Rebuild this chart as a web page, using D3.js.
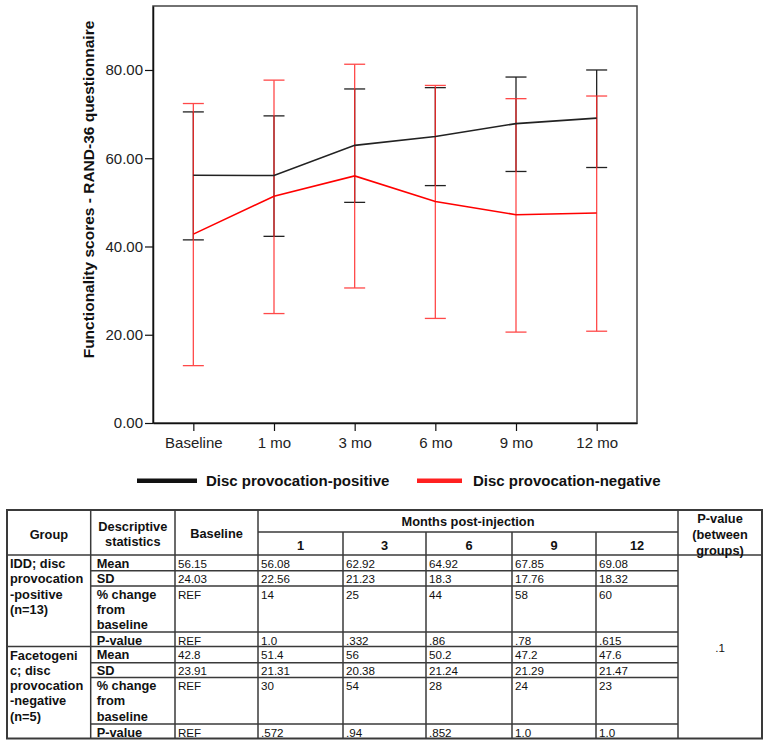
<!DOCTYPE html>
<html>
<head>
<meta charset="utf-8">
<script src="https://cdn.jsdelivr.net/npm/d3@7"></script>
<style>
  body { margin: 0; background: #fff; }
  svg { display: block; font-family: Arial, "Liberation Sans", sans-serif; }
</style>
</head>
<body>
<div id="chart"></div>
<script>
// Chart data (means from the table, error bar ends)
const timepoints = ['Baseline', '1 mo', '3 mo', '6 mo', '9 mo', '12 mo'];
const posMean = [56.15, 56.08, 62.92, 64.92, 67.85, 69.08];
const posLow  = [41.5, 42.3, 50.0, 53.8, 57.0, 57.9];
const posHigh = [70.5, 69.6, 75.7, 76.0, 78.4, 80.0];
const negMean = [42.8, 51.4, 56, 50.2, 47.2, 47.6];
const negLow  = [13.0, 24.8, 30.6, 23.7, 20.6, 20.8];
const negHigh = [72.4, 77.7, 81.3, 76.5, 73.5, 74.1];
const yTicks = [0, 20, 40, 60, 80];
const seriesNames = ['Disc provocation-positive', 'Disc provocation-negative'];
const yTitle = 'Functionality scores - RAND-36 questionnaire';

// Table data
const monthCols = ['1', '3', '6', '9', '12'];
const posSD     = ['24.03', '22.56', '21.23', '18.3', '17.76', '18.32'];
const posChange = ['REF', '14', '25', '44', '58', '60'];
const posP      = ['REF', '1.0', '.332', '.86', '.78', '.615'];
const negSD     = ['23.91', '21.31', '20.38', '21.24', '21.29', '21.47'];
const negChange = ['REF', '30', '54', '28', '24', '23'];
const negP      = ['REF', '.572', '.94', '.852', '1.0', '1.0'];
const groupLabels = [
    ['IDD; disc', 'provocation', '-positive', '(n=13)'],
    ['Facetogeni', 'c; disc', 'provocation', '-negative', '(n=5)']
];
const statLabels = [['Mean'], ['SD'], ['% change', 'from', 'baseline'], ['P-value']];
const betweenP = '.1';

const W = 771, H = 747;
const svg = d3.select('#chart').append('svg')
    .attr('width', W)
    .attr('height', H);

// ---- Plot ----
const plot = {left: 153, right: 637, top: 6, bottom: 423};

const x = d3.scalePoint()
    .domain(timepoints)
    .range([plot.left, plot.right])
    .padding(0.5);

const y = d3.scaleLinear()
    .domain([0, 94.5])
    .range([plot.bottom, plot.top]);

// frame
svg.append('rect')
    .attr('x', plot.left).attr('y', plot.top)
    .attr('width', plot.right - plot.left)
    .attr('height', plot.bottom - plot.top)
    .attr('fill', 'none')
    .attr('stroke', '#444')
    .attr('stroke-width', 1.5);

// axes
const yAxis = svg.append('g')
    .attr('transform', `translate(${plot.left},0)`)
    .call(d3.axisLeft(y).tickValues(yTicks).tickFormat(d3.format('.2f'))
        .tickSize(8).tickSizeOuter(0).tickPadding(2));

const xAxis = svg.append('g')
    .attr('transform', `translate(0,${plot.bottom})`)
    .call(d3.axisBottom(x).tickSize(8).tickSizeOuter(0).tickPadding(6));

[xAxis, yAxis].forEach(a => {
    a.select('.domain').attr('stroke', '#111').attr('stroke-width', 1.5);
    a.selectAll('.tick line').attr('stroke', '#111').attr('stroke-width', 1.2);
    a.selectAll('.tick text')
        .attr('font-family', 'Arial, "Liberation Sans", sans-serif')
        .attr('font-size', 15)
        .attr('fill', '#222');
});

// y title
svg.append('text')
    .attr('transform', 'translate(88.5,189.5) rotate(-90)')
    .attr('text-anchor', 'middle')
    .attr('dominant-baseline', 'central')
    .attr('font-weight', 'bold')
    .attr('font-size', 15.5)
    .attr('fill', '#111')
    .text(yTitle);

// error bars
const series = [
    {mean: posMean, low: posLow, high: posHigh, color: '#222', barColor: '#222', opacity: 1},
    {mean: negMean, low: negLow, high: negHigh, color: '#ff0000', barColor: '#ff2a2a', opacity: 0.85}
];
const capHalf = 10.5;

series.forEach(s => {
    const g = svg.append('g')
        .attr('stroke', s.barColor)
        .attr('stroke-width', 1.3)
        .attr('opacity', s.opacity);
    timepoints.forEach((t, i) => {
        const cx = x(t);
        g.append('line')
            .attr('x1', cx).attr('x2', cx)
            .attr('y1', y(s.low[i])).attr('y2', y(s.high[i]));
        [s.low[i], s.high[i]].forEach(v => {
            g.append('line')
                .attr('x1', cx - capHalf).attr('x2', cx + capHalf)
                .attr('y1', y(v)).attr('y2', y(v));
        });
    });
});

// mean lines
const line = d3.line()
    .x((d, i) => x(timepoints[i]))
    .y(d => y(d));

series.forEach(s => {
    svg.append('path')
        .attr('d', line(s.mean))
        .attr('fill', 'none')
        .attr('stroke', s.color)
        .attr('stroke-width', 1.6);
});

// legend
const legend = [
    {x1: 137, x2: 197, tx: 206, color: '#111'},
    {x1: 417, x2: 462, tx: 473, color: '#ff2020'}
];
const legendY = 480.7;
legend.forEach((l, i) => {
    svg.append('line')
        .attr('x1', l.x1).attr('x2', l.x2)
        .attr('y1', legendY).attr('y2', legendY)
        .attr('stroke', l.color)
        .attr('stroke-width', 4.5);
    svg.append('text')
        .attr('x', l.tx).attr('y', legendY)
        .attr('dominant-baseline', 'central')
        .attr('font-weight', 'bold')
        .attr('font-size', 15)
        .attr('fill', '#111')
        .text(seriesNames[i]);
});

// ---- Table ----
const cols = [7, 90.7, 175, 258, 343, 426, 512, 596, 678, 762];
const rows = [510, 532, 555, 570.7, 586, 632, 646.5, 662.7, 677.5, 724, 738.5];
const tg = svg.append('g')
    .attr('stroke', '#3a3a3a')
    .attr('stroke-width', 1.5);

const hline = (yy, xa, xb) => tg.append('line')
    .attr('x1', xa).attr('x2', xb).attr('y1', yy).attr('y2', yy);
const vline = (xx, ya, yb) => tg.append('line')
    .attr('x1', xx).attr('x2', xx).attr('y1', ya).attr('y2', yb);

tg.append('rect')
    .attr('x', cols[0]).attr('y', rows[0])
    .attr('width', cols[9] - cols[0]).attr('height', rows[10] - rows[0])
    .attr('fill', 'none')
    .attr('stroke-width', 2);

[1, 2, 3, 8].forEach(c => vline(cols[c], rows[0], rows[10]));
[4, 5, 6, 7].forEach(c => vline(cols[c], rows[1], rows[10]));
hline(rows[1], cols[3], cols[8]);
hline(rows[2], cols[0], cols[9]);
[3, 4, 5, 7, 8, 9].forEach(r => hline(rows[r], cols[1], cols[8]));
hline(rows[6], cols[0], cols[8]);

const bold = 12.8, plain = 11.6, lh = 15.3;
const txt = (xx, yy, s, opts = {}) => svg.append('text')
    .attr('x', xx).attr('y', yy)
    .attr('text-anchor', opts.anchor || 'start')
    .attr('font-weight', opts.bold ? 'bold' : 'normal')
    .attr('font-size', opts.bold ? bold : plain)
    .attr('fill', '#111')
    .text(s);

// header
const hdr = {bold: true, anchor: 'middle'};
txt((cols[0] + cols[1]) / 2, 538.5, 'Group', hdr);
txt((cols[1] + cols[2]) / 2, 531, 'Descriptive', hdr);
txt((cols[1] + cols[2]) / 2, 546, 'statistics', hdr);
txt((cols[2] + cols[3]) / 2, 537.5, 'Baseline', hdr);
txt((cols[3] + cols[8]) / 2, 526, 'Months  post-injection', hdr);
monthCols.forEach((m, i) => txt((cols[4 + i - 1] + cols[4 + i]) / 2, 549.5, m, hdr));
['P-value', '(between', 'groups)'].forEach((s, i) =>
    txt((cols[8] + cols[9]) / 2, 522.5 + i * 16, s, hdr));

// body
const groupRows = [
    [posMean.map(String), posSD, posChange, posP],
    [negMean.map(String), negSD, negChange, negP]
];
groupRows.forEach((g, gi) => {
    const base = gi === 0 ? 2 : 6;
    groupLabels[gi].forEach((s, k) =>
        txt(cols[0] + 3, rows[base] + 13 + k * lh, s, {bold: true}));
    g.forEach((vals, r) => {
        const top = rows[base + r];
        statLabels[r].forEach((s, k) =>
            txt(cols[1] + 6, top + 12.5 + k * lh, s, {bold: true}));
        vals.forEach((v, c) => txt(cols[2 + c] + 3, top + 12.5, v));
    });
});

txt((cols[8] + cols[9]) / 2, 652, betweenP, {anchor: 'middle'});
</script>
</body>
</html>
